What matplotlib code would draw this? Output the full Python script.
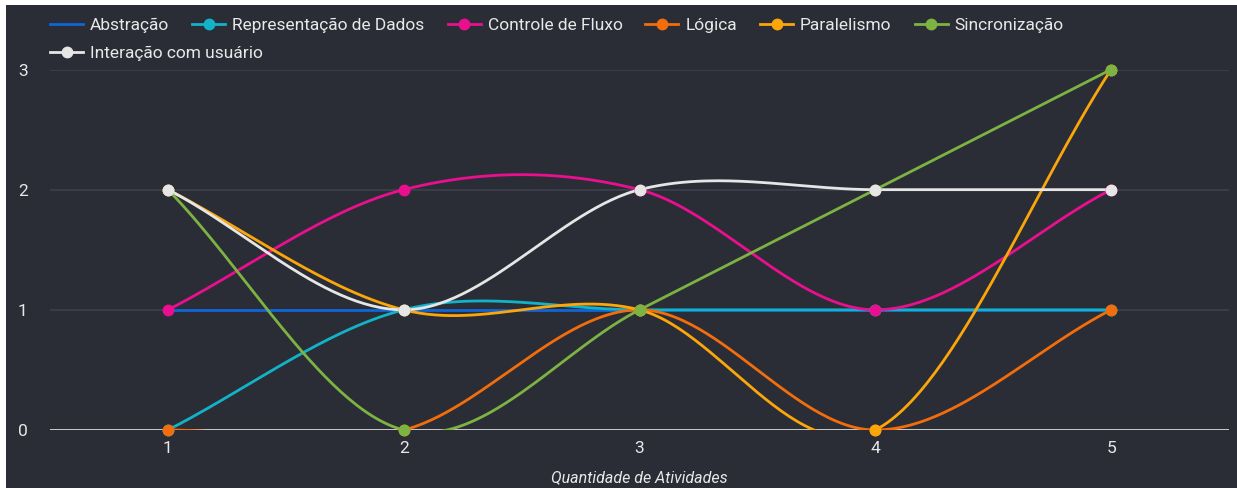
import numpy as np
import matplotlib
matplotlib.use("Agg")
import matplotlib.pyplot as plt
from matplotlib import font_manager
from matplotlib.lines import Line2D
from matplotlib.patches import Rectangle

# ---------------- data ----------------
x_values = [1, 2, 3, 4, 5]
series_names = ["Abstração", "Representação de Dados", "Controle de Fluxo",
                "Lógica", "Paralelismo", "Sincronização", "Interação com usuário"]
abstracao = [1, 1, 1, 1, 1]
representacao = [0, 1, 1, 1, 1]
controle = [1, 2, 2, 1, 2]
logica = [0, 0, 1, 0, 1]
paralelismo = [2, 1, 1, 0, 3]
sincronizacao = [2, 0, 1, 2, 3]
interacao = [2, 1, 2, 2, 2]
y_ticks = [0, 1, 2, 3]
x_label = "Quantidade de Atividades"

series_values = [abstracao, representacao, controle, logica,
                 paralelismo, sincronizacao, interacao]
colors = ["#0f66d6", "#12b3c8", "#ea0f8f", "#f26d0c", "#fba60a", "#7cb342", "#e6e6e6"]
show_markers = [False, True, True, True, True, True, True]

# ---------------- fonts ----------------
def pick_font(cands):
    for c in cands:
        try:
            font_manager.findfont(c, fallback_to_default=False)
            return c
        except Exception:
            pass
    return "DejaVu Sans"

FONT = pick_font(["Roboto", "Open Sans", "DejaVu Sans"])
plt.rcParams["font.family"] = [FONT, "DejaVu Sans"]

BG = "#2b2d36"
TXT = "#e8e8e8"
W, H = 1237, 488


def spline(xs, ys, n=60):
    xs = np.asarray(xs, float)
    ys = np.asarray(ys, float)
    k = len(xs)
    m = np.zeros(k)
    for i in range(k):
        if i == 0:
            m[i] = (ys[1] - ys[0]) / (xs[1] - xs[0])
        elif i == k - 1:
            m[i] = (ys[-1] - ys[-2]) / (xs[-1] - xs[-2])
        else:
            m[i] = (ys[i + 1] - ys[i - 1]) / (xs[i + 1] - xs[i - 1])
    X, Y = [], []
    for i in range(k - 1):
        h = xs[i + 1] - xs[i]
        t = np.linspace(0, 1, n, endpoint=(i == k - 2))
        h00 = 2 * t**3 - 3 * t**2 + 1
        h10 = t**3 - 2 * t**2 + t
        h01 = -2 * t**3 + 3 * t**2
        h11 = t**3 - t**2
        X.append(xs[i] + t * h)
        Y.append(h00 * ys[i] + h10 * h * m[i] + h01 * ys[i + 1] + h11 * h * m[i + 1])
    return np.concatenate(X), np.concatenate(Y)


fig = plt.figure(figsize=(W / 100, H / 100), dpi=100)
fig.patch.set_facecolor("white")
fig.patches.append(Rectangle((6 / W, 0), (W - 6) / W, (H - 5) / H,
                             transform=fig.transFigure, facecolor=BG,
                             edgecolor="none", zorder=-10))

ax = fig.add_axes([50 / W, (H - 430) / H, (1229 - 50) / W, (430 - 69.5) / H])
ax.set_zorder(5)
ax.set_facecolor("none")
ax.set_xlim(0.5, 5.5)
ax.set_ylim(0, 3)
for s in ax.spines.values():
    s.set_visible(False)

for yv in y_ticks[1:]:
    ax.axhline(yv, color="#3a3d47", lw=1.5, zorder=1)
ax.axhline(0, color="#d9d9d9", lw=2.0, zorder=1.5)

for i, (name, vals) in enumerate(zip(series_names, series_values)):
    sx, sy = spline(x_values, vals)
    ax.plot(sx, sy, color=colors[i], lw=2.0, zorder=2 + i * 0.1,
            solid_capstyle="round")
for i, (name, vals) in enumerate(zip(series_names, series_values)):
    if show_markers[i]:
        ax.plot(x_values, vals, ls="none", marker="o", ms=7.5,
                color=colors[i], markeredgecolor=colors[i], zorder=3 + i * 0.1,
                clip_on=False)

ax.set_xticks(x_values)
ax.set_xticklabels([str(v) for v in x_values])
ax.set_yticks(y_ticks)
ax.set_yticklabels([str(v) for v in y_ticks])
ax.tick_params(axis="both", length=0, colors=TXT, labelsize=12.5)
ax.tick_params(axis="x", pad=8)
ax.tick_params(axis="y", pad=16)
ax.set_xlabel(x_label, color=TXT, fontsize=11.5, style="italic", labelpad=10)

# ---------------- manual legend ----------------
renderer = fig.canvas.get_renderer()

def px(x, y_top):
    return x / W, 1 - y_top / H

rows = [[0, 1, 2, 3, 4, 5], [6]]
row_y = [24, 52]
for r, items in enumerate(rows):
    xcur = 50
    yc = row_y[r]
    for i in items:
        x0, y0 = px(xcur, yc)
        x1, _ = px(xcur + 33, yc)
        fig.add_artist(Line2D([x0, x1], [y0, y0], transform=fig.transFigure,
                              color=colors[i], lw=2.0))
        if show_markers[i]:
            xm, _ = px(xcur + 16.5, yc)
            fig.add_artist(Line2D([xm], [y0], transform=fig.transFigure,
                                  marker="o", ms=7.5, color=colors[i], ls="none"))
        tx, _ = px(xcur + 40, yc)
        t = fig.text(tx, y0, series_names[i], color=TXT, fontsize=12.5,
                     va="center_baseline", ha="left")
        bb = t.get_window_extent(renderer)
        xcur = xcur + 40 + bb.width + 23

fig.savefig("out.png", dpi=100, facecolor=fig.get_facecolor())
